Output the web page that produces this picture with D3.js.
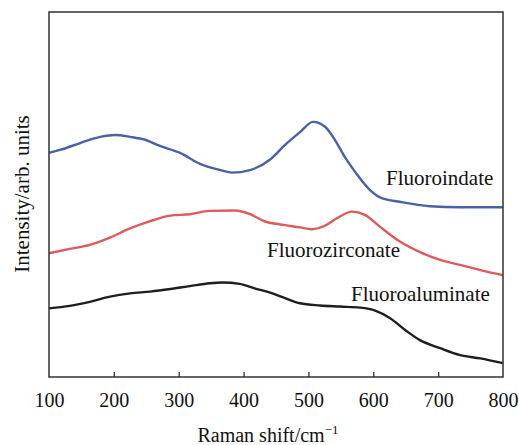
<!DOCTYPE html>
<html><head><meta charset="utf-8">
<script src="https://cdn.jsdelivr.net/npm/d3@7"></script>
<style>
body{margin:0;background:#fff;}
text{font-family:"Liberation Serif","Times New Roman",serif;fill:#111;}
</style></head>
<body><svg id="c" width="519" height="445"></svg>
<script>
const xTicks = [100,200,300,400,500,600,700,800];
const seriesNames = ["Fluoroindate","Fluorozirconate","Fluoroaluminate"];
const seriesColors = ["#4862a6","#de5a5c","#1e1e1e"];

const indateW = [100,117,148,179,202,225,248,271,302,333,364,382,410,441,464,487,507,526,541,556,572,595,613,641,687,734,800];
const indateI = [61.4,62.2,64.1,65.8,66.3,65.8,65.0,63.3,61.4,58.4,56.7,56.0,56.7,59.6,63.6,67.1,69.9,68.5,64.9,60.3,56.2,51.2,49.0,48.0,46.8,46.5,46.5];

const zirconateW = [100,132,163,194,225,256,287,317,348,387,410,433,456,487,505,526,544,567,587,610,641,672,703,734,765,800];
const zirconateI = [33.9,35.1,36.2,38.2,40.7,42.7,44.2,44.6,45.5,45.6,44.6,42.6,41.8,41.0,40.5,41.5,43.5,45.3,44.4,41.2,37.1,34.2,32.1,30.7,29.3,27.9];

const aluminateW = [100,132,163,194,225,256,287,317,348,367,394,417,441,464,487,518,549,580,603,626,649,672,703,734,765,800];
const aluminateI = [18.8,19.5,20.6,22.0,22.9,23.4,24.1,24.9,25.7,25.9,25.5,24.3,23.1,21.6,20.2,19.6,19.3,19.0,18.2,16.1,12.9,10.1,7.9,6.0,5.1,3.8];

const svg = d3.select("#c");
const L=49,R=503,T=12,B=377;
const x = d3.scaleLinear().domain([100,800]).range([L,R]);
const y = d3.scaleLinear().domain([0,100]).range([B,T]);

const series = [
  indateW.map((w,i)=>[w,indateI[i]]),
  zirconateW.map((w,i)=>[w,zirconateI[i]]),
  aluminateW.map((w,i)=>[w,aluminateI[i]])
];
const line = d3.line().x(d=>x(d[0])).y(d=>y(d[1])).curve(d3.curveMonotoneX);
series.forEach((s,i)=>{
  svg.append("path").attr("d",line(s)).attr("fill","none")
    .attr("stroke",seriesColors[i]).attr("stroke-width",2.4).attr("stroke-linejoin","round");
});

// frame
svg.append("rect").attr("x",L).attr("y",T).attr("width",R-L).attr("height",B-T)
  .attr("fill","none").attr("stroke","#333").attr("stroke-width",1.5);

// bottom axis
const ax = svg.append("g").attr("transform",`translate(0,${B})`)
  .call(d3.axisBottom(x).tickValues(xTicks).tickSizeInner(-5).tickSizeOuter(0).tickPadding(16));
ax.select(".domain").remove();
ax.attr("font-family",null);
ax.selectAll(".tick line").attr("stroke","#333").attr("stroke-width",1.3)
  .filter(d=>d===100||d===800).remove();
ax.selectAll(".tick text").attr("font-size",20).attr("fill","#111");

// axis titles
const xt = svg.append("text").attr("x",268).attr("y",442).attr("text-anchor","middle").attr("font-size",20);
xt.append("tspan").text("Raman shift/cm");
xt.append("tspan").text("\u22121").attr("font-size",13).attr("dy",-8);

svg.append("text").attr("transform","translate(29,194) rotate(-90)").attr("text-anchor","middle")
  .attr("font-size",21).text("Intensity/arb. units");

// series labels
const labelX = [386,267,351];
const labelY = [185,256.5,300.5];
seriesNames.forEach((n,i)=>{
  svg.append("text").attr("x",labelX[i]).attr("y",labelY[i]).attr("font-size",21).text(n);
});
</script></body></html>
